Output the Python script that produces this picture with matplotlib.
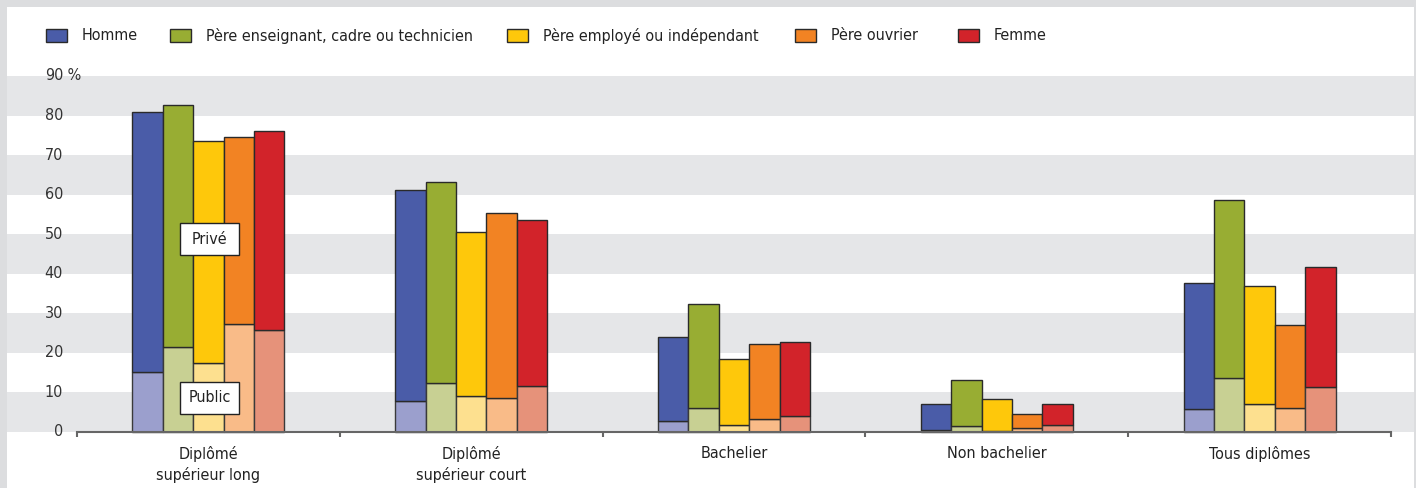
import matplotlib
matplotlib.use("Agg")
import matplotlib.pyplot as plt
from matplotlib.patches import Rectangle
import numpy as np

plt.rcParams["font.family"] = ["Liberation Sans Narrow", "DejaVu Sans"]
plt.rcParams["font.stretch"] = "condensed"

categories = ["Diplômé\nsupérieur long", "Diplômé\nsupérieur court", "Bachelier",
              "Non bachelier", "Tous diplômes"]
series = ["Homme", "Père enseignant, cadre ou technicien", "Père employé ou indépendant",
          "Père ouvrier", "Femme"]

# total share (public + privé), in %
total_homme = [81.0, 61.2, 24.0, 7.0, 37.7]
total_cadre = [82.7, 63.1, 32.3, 13.1, 58.6]
total_employe = [73.6, 50.6, 18.4, 8.3, 36.8]
total_ouvrier = [74.6, 55.3, 22.2, 4.6, 27.0]
total_femme = [76.1, 53.6, 22.7, 7.2, 41.7]

# public part, in %
public_homme = [15.2, 7.9, 2.7, 0.6, 5.7]
public_cadre = [21.4, 12.3, 6.1, 1.4, 13.6]
public_employe = [17.5, 9.0, 1.7, 0.3, 7.0]
public_ouvrier = [27.2, 8.5, 3.2, 0.9, 6.0]
public_femme = [25.8, 11.7, 4.0, 1.7, 11.5]

yticks = [0, 10, 20, 30, 40, 50, 60, 70, 80, 90]

totals = [total_homme, total_cadre, total_employe, total_ouvrier, total_femme]
publics = [public_homme, public_cadre, public_employe, public_ouvrier, public_femme]
dark = ["#4a5ca8", "#98ad33", "#fec80b", "#f28323", "#d2232a"]
light = ["#9b9fcd", "#c8d093", "#fde08f", "#f9bb88", "#e6927a"]

W, H = 1416, 488
PX_X = 262.8   # pixels per category
PX_Y = 356 / 90  # pixels per percent
FS = 11.5


def xd(px):
    return -0.5 + (px - 77) / PX_X


def yd(py):
    return (432 - py) / PX_Y


fig = plt.figure(figsize=(W / 100, H / 100), dpi=100)
fig.patch.set_facecolor("#dcdddf")
ax = fig.add_axes([7 / W, 0, (1414 - 7) / W, (H - 7) / H])
ax.set_xlim(xd(7), xd(1414))
ax.set_ylim(yd(488), yd(7))
ax.axis("off")

# white panel + grey bands
ax.add_patch(Rectangle((xd(7), yd(488)), xd(1414) - xd(7), yd(7) - yd(488),
                       facecolor="white", lw=0, zorder=-1))
for lo in range(0, 90, 20):
    ax.axhspan(lo, lo + 10, color="#e5e6e8", lw=0, zorder=0)

x = np.arange(len(categories))
bw = 30.4 / PX_X
for k in range(len(series)):
    tot = np.array(totals[k])
    pub = np.array(publics[k])
    pos = x + (k - 2) * bw
    ax.bar(pos, pub, width=bw, color=light[k], edgecolor="#3a3a3a", lw=1, zorder=3)
    ax.bar(pos, tot - pub, bottom=pub, width=bw, color=dark[k],
           edgecolor="#2a2a2a", lw=1, zorder=3)

# x axis line and ticks
ax.plot([-0.5, len(categories) - 0.5], [0, 0], color="#666666", lw=1.5, zorder=4)
ax.vlines(np.arange(len(categories) + 1) - 0.5, 0, -5 / PX_Y, color="#666666", lw=1.5, zorder=4)

# y labels
for t in yticks:
    ax.text(xd(63), t, str(t), ha="right", va="center", fontsize=FS, color="#333333")
ax.text(xd(63), yticks[-1], " %", ha="left", va="center", fontsize=FS, color="#333333")

# category labels
for i, c in enumerate(categories):
    ax.text(i, yd(446), c, ha="center", va="top", fontsize=FS, color="#222222",
            linespacing=1.4)

# Privé / Public boxes
for label, cy in [("Privé", yd(239)), ("Public", yd(397.5))]:
    bx_w, bx_h = 59 / PX_X, 32 / PX_Y
    ax.add_patch(Rectangle((xd(209.5) - bx_w / 2, cy - bx_h / 2), bx_w, bx_h,
                           facecolor="white", edgecolor="#222222", lw=1, zorder=5))
    ax.text(xd(209.5), cy, label, ha="center", va="center", fontsize=FS,
            color="#222222", zorder=6)

# legend
leg_x = [46, 170, 507, 795, 958]
for k, name in enumerate(series):
    sw, sh = 21 / PX_X, 13 / PX_Y
    ax.add_patch(Rectangle((xd(leg_x[k]), yd(42)), sw, sh, facecolor=dark[k],
                           edgecolor="#2a2a2a", lw=1, zorder=5))
    ax.text(xd(leg_x[k] + 36), yd(35.5), name, ha="left", va="center", fontsize=FS,
            color="#222222")

fig.savefig("out.png", dpi=100, facecolor=fig.get_facecolor())
